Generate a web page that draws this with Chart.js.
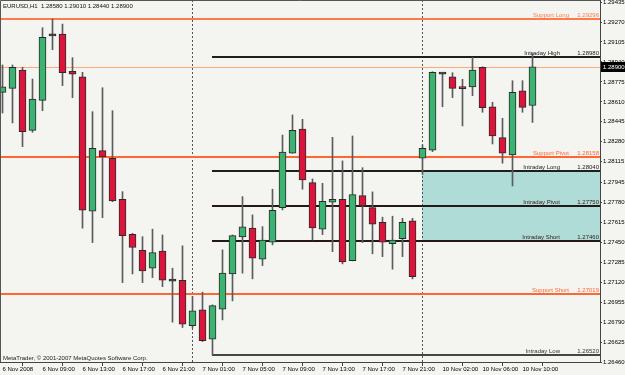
<!DOCTYPE html>
<html>
<head>
<meta charset="utf-8">
<title>EURUSD,H1</title>
<script src="https://cdn.jsdelivr.net/npm/chart.js@4.4.0/dist/chart.umd.min.js"></script>
<style>
  html, body { margin: 0; padding: 0; background: #f4f4f0; }
  canvas { display: block; }
</style>
</head>
<body>
<canvas id="price-chart" width="625" height="375"></canvas>
<script>
// Hourly bars (bar 0 = 6 Nov 05:00)
const opens = [1.28689, 1.28722, 1.28873, 1.28375, 1.28623, 1.29156, 1.29171, 1.28863, 1.28816, 1.27706,
  1.28207, 1.28144, 1.27805, 1.27516, 1.27384, 1.27235, 1.27376, 1.27128, 1.27136, 1.26761,
  1.26891, 1.26649, 1.26897, 1.27188, 1.27494, 1.27566, 1.27310, 1.27450, 1.27736, 1.28185,
  1.28386, 1.27942, 1.27558, 1.27781, 1.27805, 1.27298, 1.27835, 1.27736, 1.27615, 1.27439,
  1.27480, 1.27626, 1.28144, 1.28210, 1.28840, 1.28818, 1.28730, 1.28733, 1.28896, 1.28570,
  1.28314, 1.28171, 1.28702, 1.28580];
const highs = [1.28915, 1.28915, 1.28896, 1.28799, 1.29223, 1.29295, 1.29253, 1.28975, 1.28854, 1.28529,
  1.28727, 1.28537, 1.27868, 1.27524, 1.27496, 1.27558, 1.27510, 1.27235, 1.27420, 1.27001,
  1.27037, 1.26932, 1.27387, 1.27510, 1.27827, 1.27676, 1.27579, 1.27888, 1.28336, 1.28502,
  1.28466, 1.27973, 1.27937, 1.28317, 1.28122, 1.28328, 1.28066, 1.27866, 1.27657, 1.27665,
  1.27648, 1.27648, 1.28254, 1.28859, 1.28848, 1.28851, 1.28797, 1.28978, 1.28900, 1.28607,
  1.28474, 1.28785, 1.28785, 1.29010];
const lows = [1.28518, 1.28436, 1.28240, 1.28359, 1.28537, 1.29041, 1.28744, 1.28645, 1.27566, 1.27447,
  1.27653, 1.27785, 1.27116, 1.27188, 1.27116, 1.27158, 1.27083, 1.26789, 1.26745, 1.26740,
  1.26629, 1.26520, 1.26808, 1.26965, 1.27194, 1.27147, 1.27257, 1.27428, 1.27717, 1.28185,
  1.27888, 1.27469, 1.27513, 1.27372, 1.27271, 1.27296, 1.27447, 1.27354, 1.27331, 1.27227,
  1.27331, 1.27147, 1.28010, 1.28199, 1.28570, 1.28645, 1.28411, 1.28661, 1.28524, 1.28262,
  1.28103, 1.27915, 1.28524, 1.28440];
const closes = [1.28735, 1.28896, 1.28364, 1.28634, 1.29143, 1.29156, 1.28851, 1.28838, 1.27714, 1.28227,
  1.28155, 1.27791, 1.27505, 1.27406, 1.27213, 1.27364, 1.27136, 1.27128, 1.26773, 1.26883,
  1.26637, 1.26926, 1.27194, 1.27505, 1.27577, 1.27318, 1.27467, 1.27714, 1.28194, 1.28375,
  1.27965, 1.27568, 1.27789, 1.27805, 1.27287, 1.27843, 1.27750, 1.27599, 1.27450, 1.27467,
  1.27615, 1.27166, 1.28227, 1.28854, 1.28840, 1.28722, 1.28719, 1.28873, 1.28562, 1.28328,
  1.28185, 1.28689, 1.28565, 1.28900];

// Time axis labels
const xTickBars = [0, 4, 8, 12, 16, 20, 24, 28, 32, 36, 40, 44, 48, 52];
const xTickLabels = ['6 Nov 2008', '6 Nov 09:00', '6 Nov 13:00', '6 Nov 17:00', '6 Nov 21:00',
  '7 Nov 01:00', '7 Nov 05:00', '7 Nov 09:00', '7 Nov 13:00', '7 Nov 17:00', '7 Nov 21:00',
  '10 Nov 02:00', '10 Nov 06:00', '10 Nov 10:00'];

// Price axis labels
const yTicks = [1.29435, 1.29270, 1.29105, 1.28940, 1.28775, 1.28610, 1.28445, 1.28280, 1.28115,
  1.27945, 1.27780, 1.27615, 1.27450, 1.27285, 1.27120, 1.26955, 1.26790, 1.26625, 1.26460];

// Support / intraday levels
const levelNames = ['Support Long', 'Intraday High', 'Support Pivot', 'Intraday Long',
  'Intraday Pivot', 'Intraday Short', 'Support Short', 'Intraday Low'];
const levelValues = [1.29296, 1.28980, 1.28158, 1.28040, 1.27750, 1.27460, 1.27019, 1.26520];

// Day separators and where the intraday levels begin
const separatorBars = [19, 42];
const intradayStartBar = 21;
const zoneStartBar = 42;

const symbol = 'EURUSD,H1';

const FONT = '"Liberation Sans", Arial, sans-serif';
const BULL = '#3cb371';
const BEAR = '#dc143c';

// Per-level styles
function levelStyle(name) {
  if (name === 'Support Long') return { color: '#ff7a4a', width: 2, full: true, textColor: '#ff7a4a', nameRight: 569 };
  if (name.startsWith('Support')) return { color: '#ff6633', width: 2, full: true, textColor: '#ff6633', nameRight: 569 };
  if (name === 'Intraday Low') return { color: '#454545', width: 2, full: false, textColor: '#333', nameRight: 560 };
  if (name === 'Intraday Pivot' || name === 'Intraday Short') return { color: '#241818', width: 2, full: false, textColor: '#3a2020', nameRight: 560 };
  return { color: '#1e1e1e', width: 2, full: false, textColor: '#222', nameRight: 560 };
}

const bodyData = opens.map((o, i) => ({ x: i, y: [o, closes[i]] }));
const wickData = lows.map((l, i) => ({ x: i, y: [l, highs[i]] }));
const bodyColors = opens.map((o, i) => closes[i] > o ? BULL : (closes[i] < o ? BEAR : '#1e2a22'));

// Background, levels, zone and labels
const overlayPlugin = {
  id: 'overlay',
  beforeDraw(chart) {
    const { ctx, width, height } = chart;
    ctx.save();
    ctx.fillStyle = '#f4f4f0';
    ctx.fillRect(0, 0, width, height);
    ctx.restore();
  },
  beforeDatasetsDraw(chart) {
    const { ctx, chartArea: a, scales: { x, y } } = chart;
    ctx.save();

    // Shaded zone between Intraday Long and Intraday Short
    const zLeft = Math.floor(x.getPixelForValue(zoneStartBar));
    const zTop = y.getPixelForValue(levelValues[levelNames.indexOf('Intraday Long')]);
    const zBottom = y.getPixelForValue(levelValues[levelNames.indexOf('Intraday Short')]);
    ctx.fillStyle = '#b0dcd8';
    ctx.fillRect(zLeft, zTop, a.right - zLeft, zBottom - zTop);

    // Day separators
    ctx.strokeStyle = '#555';
    ctx.lineWidth = 1;
    ctx.setLineDash([2, 2]);
    separatorBars.forEach(b => {
      const px = Math.floor(x.getPixelForValue(b)) + 0.5;
      ctx.beginPath();
      ctx.moveTo(px, a.top);
      ctx.lineTo(px, a.bottom);
      ctx.stroke();
    });
    ctx.setLineDash([]);

    // Current price line
    const cy = Math.round(y.getPixelForValue(closes[closes.length - 1]));
    ctx.fillStyle = '#ffa878';
    ctx.fillRect(a.left, cy, a.right - a.left, 1);

    // Level lines
    levelNames.forEach((name, i) => {
      const st = levelStyle(name);
      const py = Math.round(y.getPixelForValue(levelValues[i]));
      const x0 = st.full ? a.left : Math.floor(x.getPixelForValue(intradayStartBar));
      ctx.fillStyle = st.color;
      ctx.fillRect(x0, py - 1, a.right - x0, st.width);
    });

    ctx.restore();
  },
  afterDraw(chart) {
    const { ctx, chartArea: a, scales: { y } } = chart;
    ctx.save();
    ctx.font = '6px ' + FONT;
    ctx.textBaseline = 'bottom';

    // Level labels
    levelNames.forEach((name, i) => {
      const st = levelStyle(name);
      const py = Math.round(y.getPixelForValue(levelValues[i]));
      ctx.fillStyle = st.textColor;
      ctx.textAlign = 'right';
      ctx.fillText(name, st.nameRight, py - 1);
      ctx.fillText(levelValues[i].toFixed(5), a.right - 1, py - 1);
    });

    // Current price box on the axis
    const last = closes.length - 1;
    const cy = Math.round(y.getPixelForValue(closes[last]));
    ctx.fillStyle = '#000';
    ctx.fillRect(a.right + 1, cy - 5, 24, 10);
    ctx.fillStyle = '#fff';
    ctx.textAlign = 'left';
    ctx.textBaseline = 'middle';
    ctx.fillText(closes[last].toFixed(5), a.right + 3, cy);

    // Header and footer text
    ctx.fillStyle = '#111';
    const ohlc = [opens[last], highs[last], lows[last], closes[last]].map(v => v.toFixed(5)).join(' ');
    ctx.fillText(symbol + '  ' + ohlc, 3, 6);
    ctx.fillStyle = '#222';
    ctx.fillText('MetaTrader, \u00a9 2001-2007 MetaQuotes Software Corp.', 3, a.bottom - 4);

    // Frame top and left
    ctx.strokeStyle = '#555';
    ctx.lineWidth = 1;
    ctx.beginPath();
    ctx.moveTo(a.right, a.top + 0.5);
    ctx.lineTo(a.left + 0.5, a.top + 0.5);
    ctx.lineTo(a.left + 0.5, a.bottom);
    ctx.stroke();

    ctx.restore();
  }
};

const ctx = document.getElementById('price-chart');

new Chart(ctx, {
  type: 'bar',
  data: {
    datasets: [
      {
        label: 'Body',
        data: bodyData,
        backgroundColor: bodyColors,
        borderColor: '#2a2a2a',
        borderWidth: 1,
        borderSkipped: false,
        barThickness: 7,
        minBarLength: 2,
        grouped: false,
        order: 1
      },
      {
        label: 'Wick',
        data: wickData,
        backgroundColor: '#5c5c5c',
        barThickness: 1,
        grouped: false,
        order: 2
      }
    ]
  },
  options: {
    responsive: false,
    animation: false,
    devicePixelRatio: 1,
    events: [],
    layout: { padding: 0 },
    scales: {
      x: {
        type: 'linear',
        min: -0.25,
        max: 59.75,
        offset: false,
        afterBuildTicks: axis => { axis.ticks = xTickBars.map(v => ({ value: v })); },
        afterFit: s => { s.height = 13; s.paddingLeft = 0; s.paddingRight = 0; },
        ticks: {
          callback: (v, i) => xTickLabels[i],
          align: 'start',
          autoSkip: false,
          maxRotation: 0,
          padding: 0,
          color: '#000',
          font: { size: 6, family: FONT }
        },
        grid: { drawOnChartArea: false, tickLength: 4, color: '#444' },
        border: { color: '#444' }
      },
      y: {
        position: 'right',
        min: 1.26460,
        max: 1.29452,
        afterBuildTicks: axis => { axis.ticks = yTicks.map(v => ({ value: v })); },
        afterFit: s => { s.width = 25; s.paddingTop = 0; s.paddingBottom = 0; },
        ticks: {
          callback: v => v.toFixed(5),
          padding: 1,
          color: '#000',
          font: { size: 6, family: FONT }
        },
        grid: { drawOnChartArea: false, tickLength: 2, color: '#444' },
        border: { color: '#444' }
      }
    },
    plugins: {
      legend: { display: false },
      tooltip: { enabled: false }
    }
  },
  plugins: [overlayPlugin]
});
</script>
</body>
</html>
